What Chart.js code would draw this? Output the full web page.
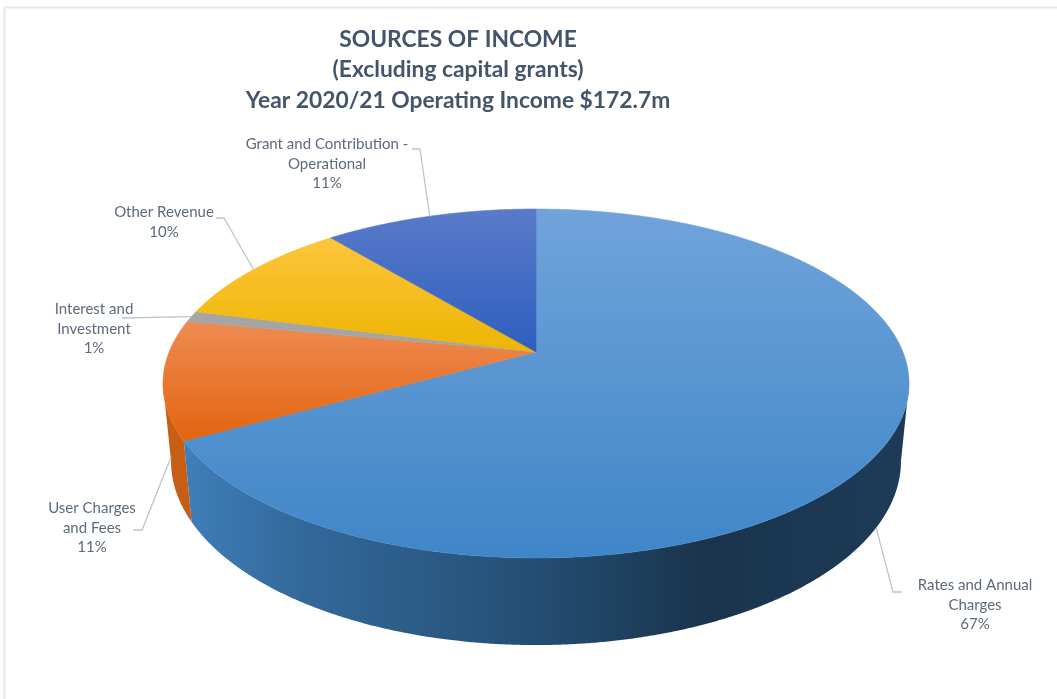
<!DOCTYPE html>
<html>
<head>
<meta charset="utf-8">
<title>Sources of income</title>
<script src="https://cdn.jsdelivr.net/npm/chart.js"></script>
<style>
    body { margin: 0; background: #fff; }
    canvas { display: block; }
</style>
</head>
<body>
<canvas id="myChart" width="1057" height="699"></canvas>
<script>
const categories = [
    ['Rates and Annual', 'Charges'],
    ['User Charges', 'and Fees'],
    ['Interest and', 'Investment'],
    ['Other Revenue'],
    ['Grant and Contribution -', 'Operational']
];
const percents = [67, 11, 1, 10, 11];
const titleLines = ['SOURCES OF INCOME', '(Excluding capital grants)', 'Year 2020/21 Operating Income $172.7m'];

// top surface colours, light end then dark end of each vertical gradient
const sliceLight = ['#70a3da', '#ee8b52', '#a5a5a5', '#fdc53c', '#5a7ac9'];
const sliceDark = ['#3f86c8', '#e2640f', '#a5a5a5', '#edb500', '#2e5fbe'];

// label anchor (centre of the first line) and the elbow of its leader line
const labelPos = [[975, 585], [92, 508], [94, 309], [164, 212], [327, 144]];
const leaderStart = [[902, 592], [133, 530], [122, 318], [216, 218], [412, 149]];
const leaderElbow = [[893, 592], [142, 530], null, [224, 218], [420, 149]];

// the disc is tilted away from the viewer, so both rims are perspective circles
const topRim = { cx: 536, cy: 352, rx: 366.9, ry: 168.8, k: 0.1805 };
const bottomRim = { cx: 536, cy: 428, rx: 359, ry: 178, k: 0.18 };
const wallFrom = 10.4 * Math.PI / 180;
const wallTo = 169.6 * Math.PI / 180;

function project(rim, angle) {
    const u = Math.cos(angle), v = Math.sin(angle);
    const w = 1 - rim.k * v;
    return [rim.cx + rim.rx * u / w, rim.cy + rim.ry * v / w];
}

function traceRim(ctx, rim, from, to) {
    const steps = Math.max(2, Math.ceil(Math.abs(to - from) / 0.005));
    for (let i = 0; i <= steps; i++) {
        const p = project(rim, from + (to - from) * i / steps);
        ctx.lineTo(p[0], p[1]);
    }
}

function wallFill(ctx, index) {
    if (index === 1) return '#c65f13';
    const g = ctx.createLinearGradient(185, 0, 905, 0);
    g.addColorStop(0, '#3f7eb9');
    g.addColorStop(0.16, '#33699a');
    g.addColorStop(0.48, '#244f75');
    g.addColorStop(0.72, '#1a344c');
    g.addColorStop(1, '#1d3b58');
    return g;
}

function topFill(ctx, arc, index) {
    // vertical gradient across the extent of this slice
    let minY = topRim.cy, maxY = topRim.cy;
    for (let a = arc.startAngle; a <= arc.endAngle; a += 0.01) {
        const y = project(topRim, a)[1];
        minY = Math.min(minY, y);
        maxY = Math.max(maxY, y);
    }
    const g = ctx.createLinearGradient(0, minY, 0, maxY);
    g.addColorStop(0, sliceLight[index]);
    g.addColorStop(1, sliceDark[index]);
    return g;
}

const tiltedPie = {
    id: 'tiltedPie',
    beforeDraw(chart) {
        const ctx = chart.ctx;
        ctx.save();
        ctx.strokeStyle = '#e4e7eb';
        ctx.lineWidth = 2;
        ctx.beginPath();
        ctx.moveTo(4.5, 699);
        ctx.lineTo(4.5, 7.5);
        ctx.lineTo(1057, 7.5);
        ctx.stroke();
        ctx.restore();
    },
    // the library's flat arcs are replaced, their angles still drive every slice
    beforeDatasetDraw(chart, args) {
        const ctx = chart.ctx;
        const arcs = args.meta.data;
        ctx.save();
        arcs.forEach(function (arc, i) {
            const from = Math.max(arc.startAngle, wallFrom);
            const to = Math.min(arc.endAngle, wallTo);
            if (from >= to) return;
            const fill = wallFill(ctx, i);
            ctx.beginPath();
            traceRim(ctx, topRim, from, to);
            traceRim(ctx, bottomRim, to, from);
            ctx.closePath();
            ctx.fillStyle = fill;
            ctx.fill();
        });
        arcs.forEach(function (arc, i) {
            const fill = topFill(ctx, arc, i);
            ctx.beginPath();
            ctx.moveTo(topRim.cx, topRim.cy);
            traceRim(ctx, topRim, arc.startAngle, arc.endAngle);
            ctx.closePath();
            ctx.fillStyle = fill;
            ctx.strokeStyle = fill;
            ctx.lineWidth = 0.6;
            ctx.fill();
            ctx.stroke();
        });
        ctx.restore();
        return false;
    },
    afterDraw(chart) {
        const ctx = chart.ctx;
        const arcs = chart.getDatasetMeta(0).data;
        ctx.save();
        arcs.forEach(function (arc, i) {
            const mid = (arc.startAngle + arc.endAngle) / 2;
            // leaders land on the lower rim for the front slices
            const end = project(Math.sin(mid) > 0 ? bottomRim : topRim, mid);
            ctx.beginPath();
            ctx.moveTo(leaderStart[i][0], leaderStart[i][1]);
            if (leaderElbow[i]) ctx.lineTo(leaderElbow[i][0], leaderElbow[i][1]);
            ctx.lineTo(end[0], end[1]);
            ctx.strokeStyle = '#bcc5d2';
            ctx.lineWidth = 1.3;
            ctx.stroke();

            const lines = categories[i].concat(percents[i] + '%');
            ctx.font = '15px Lato';
            ctx.fillStyle = '#5d6a7c';
            ctx.textAlign = 'center';
            ctx.textBaseline = 'middle';
            lines.forEach(function (line, n) {
                ctx.fillText(line, labelPos[i][0], labelPos[i][1] + n * 19.8);
            });
        });
        ctx.restore();
    }
};

const data = {
    labels: categories,
    datasets: [{
        data: percents,
        backgroundColor: sliceDark,
        borderWidth: 0
    }]
};

const config = {
    type: 'pie',
    data,
    options: {
        responsive: false,
        animation: false,
        layout: { padding: { top: 24, right: 141 } },
        plugins: {
            legend: { display: false },
            tooltip: { enabled: false },
            title: {
                display: true,
                text: titleLines,
                color: '#44546a',
                font: { family: 'Lato', size: 22.8, weight: 'bold', lineHeight: 1.34 },
                padding: 0
            }
        }
    },
    plugins: [tiltedPie]
};

const myChart = new Chart(document.getElementById('myChart'), config);
</script>
</body>
</html>
